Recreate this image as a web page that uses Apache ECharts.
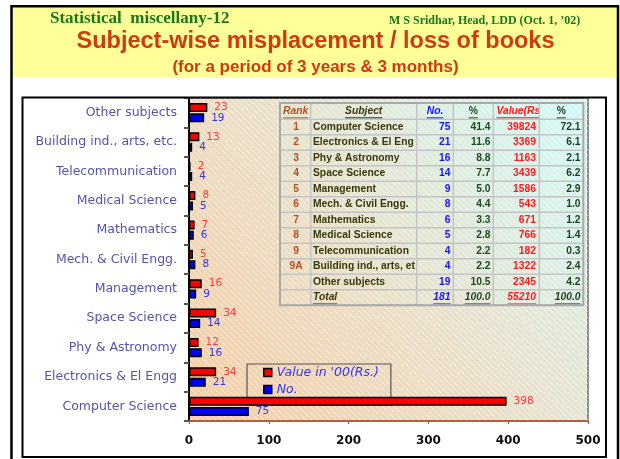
<!DOCTYPE html>
<html><head><meta charset="utf-8">
<script src="https://cdn.jsdelivr.net/npm/echarts@6/dist/echarts.min.js"></script>
<style>html,body{margin:0;padding:0;background:#fff}#c{width:620px;height:459px}</style>
</head><body><div id="c"></div>
<script>
// ---------- chart data (bottom to top on the category axis) ----------
const categories = ['Computer Science','Electronics & El Engg','Phy & Astronomy','Space Science','Management','Mech. & Civil Engg.','Mathematics','Medical Science','Telecommunication','Building ind., arts, etc.','Other subjects'];
const valueHundreds = [398,34,12,34,16,5,7,8,2,13,23];
const numbers = [75,21,16,14,9,8,6,5,4,4,19];
const seriesNames = ["Value in '00(Rs.)", 'No.'];
const xMin = 0, xMax = 500, xStep = 100;

// ---------- table data ----------
const tableHeaders = ['Rank','Subject','No.','%','Value(Rs.)','%'];
const tableRanks = ['1','2','3','4','5','6','7','8','9','9A','',''];
const tableSubjects = ['Computer Science','Electronics & El Engg','Phy & Astronomy','Space Science','Management','Mech. & Civil Engg.','Mathematics','Medical Science','Telecommunication','Building ind., arts, etc.','Other subjects','Total'];
const tableNo = ['75','21','16','14','9','8','6','5','4','4','19','181'];
const tablePct = ['41.4','11.6','8.8','7.7','5.0','4.4','3.3','2.8','2.2','2.2','10.5','100.0'];
const tableValue = ['39824','3369','1163','3439','1586','543','671','766','182','1322','2345','55210'];
const tableValPct = ['72.1','6.1','2.1','6.2','2.9','1.0','1.2','1.4','0.3','2.4','4.2','100.0'];

// ---------- header texts ----------
const headLeft = 'Statistical  miscellany-12';
const headRight = 'M S Sridhar, Head, LDD (Oct. 1, \u201902)';
const titleText = 'Subject-wise misplacement / loss of books';
const subtitleText = '(for a period of 3 years & 3 months)';

// ---------- helpers ----------
const mctx = document.createElement('canvas').getContext('2d');
function tw(t, font){ mctx.font = font; return mctx.measureText(t).width; }
function fit(t, font, w){ let s = t; while (s.length > 1 && tw(s, font) > w) s = s.slice(0, -1); return s; }

// hatch pattern
const pc = document.createElement('canvas'); pc.width = 6; pc.height = 6;
const pctx = pc.getContext('2d');
pctx.strokeStyle = 'rgba(255,255,255,0.55)'; pctx.lineWidth = 1;
pctx.beginPath();
pctx.moveTo(-1,-1); pctx.lineTo(7,7);
pctx.moveTo(-4,2); pctx.lineTo(4,10);
pctx.moveTo(2,-4); pctx.lineTo(10,4);
pctx.stroke();

const chart = echarts.init(document.getElementById('c'), null, {renderer:'canvas'});

// ---------- table graphics ----------
const TF = '"Liberation Sans", Arial, sans-serif';
const cols = [280,310.7,416.7,453.3,493.3,539.3,583.3];
const tTop = 103, headH = 16.3, rowH = 15.5;
const nRows = tableSubjects.length;
const tBottom = tTop + headH + rowH*nRows;
const table = [];
table.push({type:'rect', z:5, silent:true, shape:{x:cols[0], y:tTop, width:cols[6]-cols[0], height:tBottom-tTop},
  style:{fill:{type:'linear', x:0, y:1, x2:1, y2:0, colorStops:[{offset:0, color:'rgba(240,225,200,0.25)'},{offset:1, color:'rgba(210,255,255,0.5)'}]}}});
for (let i = 0; i <= nRows; i++) {
  const y = tTop + headH + rowH*i;
  table.push({type:'line', z:9, silent:true, shape:{x1:cols[0], y1:y, x2:cols[6], y2:y}, style:{stroke:'#c4c4c4', lineWidth:1.5}});
}
for (let c = 1; c < 6; c++) {
  table.push({type:'line', z:9, silent:true, shape:{x1:cols[c], y1:tTop, x2:cols[c], y2:tBottom}, style:{stroke:'#c4c4c4', lineWidth:1.5}});
}
table.push({type:'rect', z:9, silent:true, shape:{x:cols[0], y:tTop, width:cols[6]-cols[0], height:tBottom-tTop}, style:{fill:'none', stroke:'#a9a9a9', lineWidth:2}});

const colColors = ['#b2521f','#38380e','#1414ff','#1c4a1c','#ff1a1a','#1c3c1c'];
function addText(txt, x, y, align, color, italic, underline, clipW) {
  const font = (italic ? 'italic ' : '') + 'bold 10.3px ' + TF;
  const shown = clipW ? fit(txt, font, clipW) : txt;
  const st = {text:shown, font:font, fill:color, align:align, textAlign:align, verticalAlign:'middle', textVerticalAlign:'middle'};
  table.push({type:'text', z:8, silent:true, x:x, y:y, style:st});
  if (underline) {
    let w = tw(shown, font);
    let x1 = align === 'left' ? x : align === 'right' ? x - w : x - w/2;
    table.push({type:'line', z:8, silent:true, shape:{x1:x1, y1:y+6.5, x2:x1+w, y2:y+6.5}, style:{stroke:color, lineWidth:1.2}});
  }
}
// header
const hy = tTop + headH/2 + 0.3;
addText(tableHeaders[0], 283, hy, 'left', colColors[0], true, true);
addText(tableHeaders[1], (cols[1]+cols[2])/2, hy, 'center', colColors[1], true, true);
addText(tableHeaders[2], (cols[2]+cols[3])/2, hy, 'center', colColors[2], true, true);
addText(tableHeaders[3], (cols[3]+cols[4])/2, hy, 'center', colColors[3], false, true);
addText(tableHeaders[4], 496.5, hy, 'left', colColors[4], true, true, 44.5);
addText(tableHeaders[5], (cols[5]+cols[6])/2, hy, 'center', colColors[5], false, true);
for (let r = 0; r < nRows; r++) {
  const y = tTop + headH + rowH*r + rowH/2;
  const tot = r === nRows - 1;
  addText(tableRanks[r], 296, y, 'center', colColors[0], false, false);
  addText(tableSubjects[r], 313, y, 'left', colColors[1], tot, tot, 106.5);
  addText(tableNo[r], 450.5, y, 'right', colColors[2], tot, tot);
  addText(tablePct[r], 490.5, y, 'right', colColors[3], tot, tot);
  addText(tableValue[r], 536, y, 'right', colColors[4], tot, tot);
  addText(tableValPct[r], 580.5, y, 'right', colColors[5], tot, tot);
}

// ---------- frame & header graphics ----------
const frame = [
  {type:'rect', z:0, silent:true, shape:{x:12.5, y:7.5, width:604.5, height:69.5}, style:{fill:'#ffff99'}},
  {type:'rect', z:60, silent:true, shape:{x:11.5, y:6.2, width:606.5, height:470}, style:{fill:'none', stroke:'#000', lineWidth:2.5}},
  {type:'rect', z:60, silent:true, shape:{x:22.5, y:97.5, width:583.5, height:359.5}, style:{fill:'none', stroke:'#000', lineWidth:2}},
  {type:'rect', z:0.5, silent:true, shape:{x:190, y:98, width:398, height:322}, style:{fill:{image:pc, repeat:'repeat'}}},
  {type:'text', z:10, silent:true, x:50, y:18.8, style:{text:headLeft, font:'bold 17px "Liberation Serif", "Times New Roman", serif', fill:'#1a781a', verticalAlign:'middle', textVerticalAlign:'middle'}},
  {type:'text', z:10, silent:true, x:389, y:20.5, style:{text:headRight, font:'bold 12px "Liberation Serif", "Times New Roman", serif', fill:'#1a781a', verticalAlign:'middle', textVerticalAlign:'middle'}},
  {type:'text', z:10, silent:true, x:315.5, y:41.5, style:{text:titleText, font:'bold 23.5px "Liberation Sans", Arial, sans-serif', fill:'#cf3a12', align:'center', textAlign:'center', verticalAlign:'middle', textVerticalAlign:'middle'}},
  {type:'text', z:10, silent:true, x:315.5, y:67.5, style:{text:subtitleText, font:'bold 17px "Liberation Sans", Arial, sans-serif', fill:'#cf3a12', align:'center', textAlign:'center', verticalAlign:'middle', textVerticalAlign:'middle'}}
];

const option = {
  animation: false,
  grid: {
    left:189, top:98, right:32, bottom:38, show:true,
    backgroundColor: {type:'linear', x:0, y:1, x2:1, y2:0, colorStops:[
      {offset:0, color:'#facd9f'}, {offset:0.5, color:'#ebe0c8'}, {offset:1, color:'#d4f6f2'}]},
    borderColor:'#8e8e8e', borderWidth:2
  },
  legend: {
    data: seriesNames, orient:'vertical', left:247, top:364, z:1,
    icon:'rect', itemWidth:8, itemHeight:8, itemGap:4,
    padding:[2,12,9,16], borderColor:'#555', borderWidth:1.2,
    itemStyle:{borderColor:'#000', borderWidth:1.5},
    textStyle:{color:'#3535ee', fontStyle:'italic', fontSize:12.5, fontFamily:'DejaVu Sans', lineHeight:13}
  },
  xAxis: {
    type:'value', min:xMin, max:xMax, interval:xStep,
    axisLine:{show:true, lineStyle:{color:'#c0502a', width:1.5}},
    axisTick:{show:true, length:3, lineStyle:{color:'#c0502a', width:1.2}},
    splitLine:{show:false},
    axisLabel:{color:'#111', fontWeight:'bold', fontSize:12, fontFamily:'DejaVu Sans', margin:14}
  },
  yAxis: {
    type:'category', data:categories,
    axisLine:{show:true, lineStyle:{color:'#000', width:2}},
    axisTick:{show:true, length:5, lineStyle:{color:'#555', width:2}},
    axisLabel:{color:'#5454ad', fontSize:12.5, fontFamily:'DejaVu Sans', margin:12}
  },
  series: [
    {name:seriesNames[0], type:'bar', z:2, data:valueHundreds, barWidth:9, barGap:'15%',
     itemStyle:{color:'#ff0000', borderColor:'#000', borderWidth:1.5},
     label:{show:true, position:'right', distance:7, color:'#ff3a3a', fontSize:10.5, fontFamily:'DejaVu Sans'}},
    {name:seriesNames[1], type:'bar', z:2, data:numbers, barWidth:9, barGap:'15%',
     itemStyle:{color:'#0000ff', borderColor:'#000', borderWidth:1.5},
     label:{show:true, position:'right', distance:7, color:'#3434e6', fontSize:10.5, fontFamily:'DejaVu Sans'}}
  ],
  graphic: frame.concat(table)
};
chart.setOption(option);
</script>
</body></html>
